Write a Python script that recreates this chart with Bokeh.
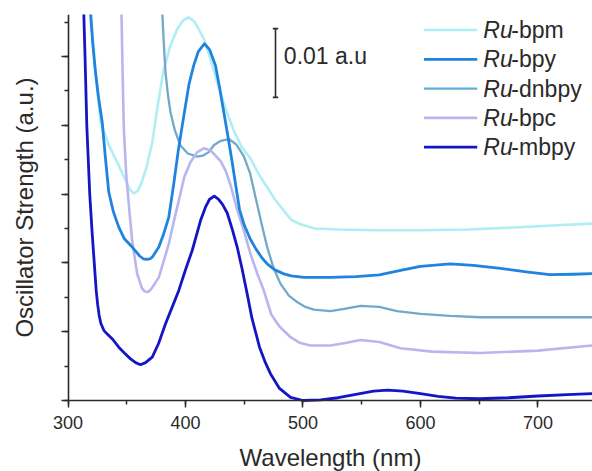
from bokeh.plotting import figure
from bokeh.models import SingleIntervalTicker, Range1d, CustomJSTickFormatter
from bokeh.embed import file_html
from bokeh.resources import INLINE
from bokeh.core.properties import value

# ---------------- data (oscillator strength in units of 1e-3 a.u.) ----------------
wl_bpm = [319.5, 323.4, 327.7, 335, 343.2, 350, 353, 356, 359, 362, 367, 371.7, 376, 381, 387, 393, 398,
          402.8, 408, 415.6, 421, 427, 434, 441, 448, 455, 462, 469.5, 476, 483.7, 490, 497.9,
          510, 530, 560, 600, 640, 680, 720, 746]
f_bpm = [56.5, 47.7, 40.5, 37.0, 34.15, 31.6, 30.6, 30.1, 30.4, 31.4, 34.0, 37.5, 42.5, 47.7, 51.5, 54.0, 55.25,
         55.7, 55.0, 52.55, 49.75, 46.25, 42.5, 39.25, 36.75, 35.25, 33.0, 31.0, 29.25, 27.6, 26.25, 25.6,
         25.0, 24.85, 24.75, 24.75, 24.85, 25.15, 25.5, 25.7]

wl_bpy = [319.1, 321, 323.4, 326, 329.1, 331.7, 334.7, 338.5, 343.2, 348, 354.6, 361, 364, 367.4, 370, 372,
          377.3, 381, 385.8, 390, 394, 398.6, 403, 407, 411, 416.2, 420.5, 425.5, 429, 432.6, 436,
          439.7, 443, 446, 450, 455, 460, 465, 469.5, 476, 483.7, 490, 500.7, 523.4, 545, 565, 583,
          600, 625, 645, 668, 690, 710, 730, 746]
f_bpy = [56.5, 52.0, 47.7, 44.0, 40.45, 35.5, 30.3, 27.5, 25.2, 23.5, 22.3, 21.0, 20.6, 20.5, 20.6, 20.9,
         22.3, 24.0, 26.65, 31.5, 36.5, 41.4, 46.0, 48.7, 50.75, 51.85, 51.0, 48.7, 45.5, 41.9, 38.5,
         34.65, 31.0, 27.75, 25.5, 23.5, 22.0, 20.75, 19.85, 19.0, 18.4, 18.1, 17.9, 17.9, 18.0, 18.25, 18.9,
         19.5, 19.85, 19.65, 19.2, 18.7, 18.3, 18.35, 18.45]

wl_dnbpy = [380.2, 381.5, 383, 385, 387.2, 391, 395.7, 402, 410, 415, 419.8, 424.1, 430, 436.9,
            443, 449.6, 455, 459.6, 465, 469.5, 475, 480.9, 488, 495, 502, 509.2, 523.4, 535, 549,
            565, 580, 600, 625, 651, 700, 746]
f_dnbpy = [56.5, 52.0, 47.7, 44.5, 41.9, 39.25, 37.05, 35.9, 35.45, 35.6, 36.1, 37.1, 37.75, 38.0,
           37.25, 35.5, 33.0, 29.55, 25.5, 22.3, 19.25, 16.95, 15.25, 14.3, 13.6, 13.2, 13.0, 13.3, 13.75,
           13.6, 13.0, 12.6, 12.3, 12.1, 12.1, 12.1]

wl_bpc = [345.5, 346.5, 347.5, 349.5, 352, 354.6, 358.9, 363, 365, 367.4, 369.5, 372, 377.3, 381, 385.8, 390,
          394.3, 399, 404.3, 410, 415.6, 421.3, 425.5, 430, 434, 438, 444, 450, 455.3, 461, 466.6,
          473, 480, 489.4, 497, 506.4, 523.4, 537, 549, 565, 583, 610, 651, 700, 746]
f_bpc = [56.5, 47.5, 39.5, 33.0, 28.0, 23.25, 18.4, 16.3, 15.9, 15.75, 15.95, 16.5, 17.9, 20.0, 22.75, 26.0,
         29.05, 32.5, 34.65, 36.1, 36.65, 36.35, 35.6, 34.75, 33.45, 31.5, 27.75, 24.5, 21.3, 18.5, 16.0,
         12.5, 10.75, 9.2, 8.4, 8.0, 8.0, 8.4, 8.8, 8.5, 7.6, 7.1, 6.9, 7.25, 8.0]

wl_mbpy = [313.4, 314.5, 316, 318.5, 320.5, 322, 324, 325.2, 326.5, 328, 330.5, 333.4, 338, 343.2, 348, 353.2,
           357.5, 361.7, 366, 371.7, 377, 383, 388.5, 394.3, 400, 405.7, 412.8, 417, 420.5, 424.5,
           428, 431.5, 435.5, 440, 444, 448, 452.5, 456.5, 463, 468, 472.3, 480, 489.4, 500, 515,
           530, 545, 560, 572, 585, 600, 615, 630, 650, 675, 700, 725, 746]
f_mbpy = [56.5, 50.0, 40.0, 30.0, 24.5, 20.85, 16.0, 14.0, 12.4, 11.2, 10.2, 9.65, 8.9, 7.75, 6.9, 6.05,
          5.5, 5.2, 5.5, 6.3, 8.25, 11.15, 13.5, 16.0, 19.0, 21.8, 26.15, 28.1, 29.25, 29.7,
          29.25, 28.5, 27.25, 24.75, 22.3, 19.25, 15.5, 12.0, 7.75, 5.5, 3.9, 1.75, 0.45, 0.0, 0.1,
          0.4, 0.9, 1.35, 1.5, 1.35, 1.0, 0.6, 0.35, 0.25, 0.4, 0.65, 0.85, 1.0]

series_names = ["bpm", "bpy", "dnbpy", "bpc", "mbpy"]
series_wl = [wl_bpm, wl_bpy, wl_dnbpy, wl_bpc, wl_mbpy]
series_f = [f_bpm, f_bpy, f_dnbpy, f_bpc, f_mbpy]
colors = ["#aeeef4", "#1f84de", "#72a9cb", "#b9b6ef", "#1515c6"]
legend_colors = ["#aeeef4", "#1f84de", "#62aedc", "#b9b6ef", "#1515c6"]
widths = [2.6, 2.8, 2.3, 2.6, 2.8]
draw_order = [0, 2, 3, 1, 4]

x_min, x_max = 300, 746.4
y_min, y_top = 0, 56.1
x_ticks_interval = 100
y_ticks_interval = 10     # 0.01 a.u.
scale_bar_len = 10        # 0.01 a.u.
scale_bar_label = "0.01 a.u"

FONT = "Liberation Sans"
INK = "#2a2a2a"

# The frame fills the page; both axes are pinned at data locations so that
# their ticks and titles are drawn in the margin area of the frame.
p = figure(width=592, height=471, output_backend="svg", toolbar_location=None,
           x_range=Range1d(242.55, x_max), y_range=Range1d(-10.32, y_top),
           min_border=0, min_border_left=0, min_border_right=0, min_border_top=14, min_border_bottom=0)
p.outline_line_color = None
p.xgrid.visible = False
p.ygrid.visible = False
p.background_fill_color = "white"
p.border_fill_color = "white"

for i in draw_order:
    p.line(series_wl[i], series_f[i], line_color=colors[i], line_width=widths[i],
           line_join="round", line_cap="round")

# axes
xa = p.xaxis[0]
xa.ticker = SingleIntervalTicker(interval=x_ticks_interval, num_minor_ticks=2)
xa.fixed_location = y_min
xa.bounds = (x_min, x_max)
ya = p.yaxis[0]
ya.ticker = SingleIntervalTicker(interval=y_ticks_interval, num_minor_ticks=2)
ya.fixed_location = x_min
ya.bounds = (y_min, y_top)
for ax in (xa, ya):
    ax.axis_line_color = INK
    ax.axis_line_width = 1.6
    ax.major_tick_line_color = INK
    ax.minor_tick_line_color = INK
    ax.major_tick_line_width = 1.5
    ax.minor_tick_line_width = 1.5
    ax.major_tick_in = 0
    ax.minor_tick_in = 0
    ax.major_tick_out = 7
    ax.minor_tick_out = 4
    ax.axis_label_text_font = FONT
    ax.axis_label_text_font_style = "normal"
    ax.axis_label_text_font_size = "24px"
    ax.axis_label_text_color = INK
    ax.major_label_text_font = FONT
    ax.major_label_text_color = INK
    ax.major_label_text_font_size = "18px"

xa.major_label_standoff = 9
xa.axis_label = "Wavelength (nm)"
xa.axis_label_standoff = 11
ya.formatter = CustomJSTickFormatter(code="return '';")
ya.major_label_standoff = 0
ya.axis_label = "Oscillator Strength (a.u.)"
ya.axis_label_standoff = 24

# scale bar
sb_x = 476.6
sb_top = 54.05
sb_cap = 2.3
p.segment(x0=[sb_x], y0=[sb_top - scale_bar_len], x1=[sb_x], y1=[sb_top], line_color=INK, line_width=1.6)
p.segment(x0=[sb_x - sb_cap, sb_x - sb_cap], y0=[sb_top, sb_top - scale_bar_len],
          x1=[sb_x + sb_cap, sb_x + sb_cap], y1=[sb_top, sb_top - scale_bar_len], line_color=INK, line_width=1.6)
p.text(x=[483.7], y=[50.0], text=[scale_bar_label], text_font=value(FONT), text_font_size="23px",
       text_color=INK, text_baseline="middle", text_align="left")

# legend (drawn manually so that "Ru" can be italic)
leg_top = 53.85
leg_step = 4.26
leg_x0, leg_x1, leg_tx = 603.0, 648.3, 653.5
for k in range(len(series_names)):
    yy = leg_top - k * leg_step
    p.segment(x0=[leg_x0], y0=[yy], x1=[leg_x1], y1=[yy], line_color=legend_colors[k], line_width=widths[k])
    p.text(x=[leg_tx], y=[yy], text=["Ru"], text_font=value(FONT), text_font_size="23px",
           text_font_style="italic", text_color=INK, text_baseline="middle", text_align="left")
    p.text(x=[leg_tx], y=[yy], x_offset=28, text=["-" + series_names[k]], text_font=value(FONT),
           text_font_size="23px", text_color=INK, text_baseline="middle", text_align="left")

open("out.html", "w").write(file_html(p, INLINE))
